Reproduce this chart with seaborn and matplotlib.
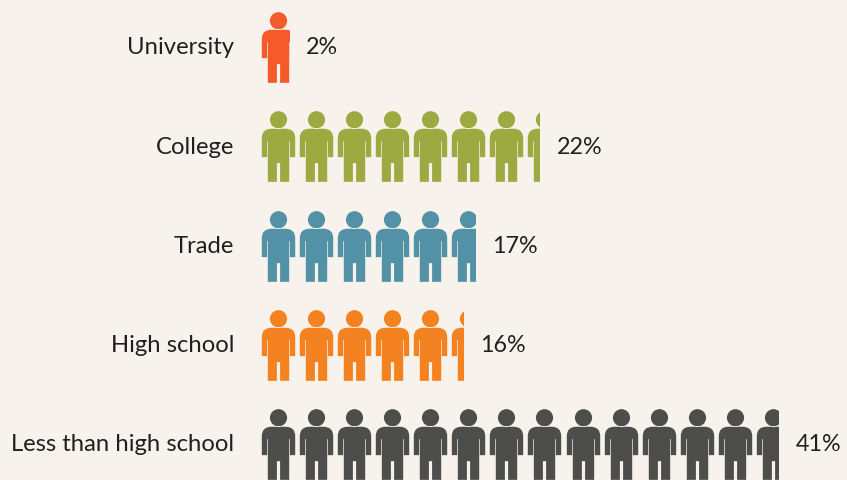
import numpy as np
import pandas as pd
import matplotlib
matplotlib.use("Agg")
import matplotlib.pyplot as plt
from matplotlib.path import Path
from matplotlib.transforms import ScaledTranslation
import seaborn as sns

categories = ["University", "College", "Trade", "High school", "Less than high school"]
shares = [2.2, 22, 16.9, 16.0, 40.9]
colors = ["#F55A2A", "#9DAA41", "#5392A6", "#F58220", "#4D4D4B"]
BG = "#F7F3EC"
TEXT = "#231F20"
PX_PER_UNIT = 12.65   # horizontal pixels per percentage point
ROW_PX = 99.25
UNITS_PER_PERSON = 3.01

sns.set_theme(style="white")
plt.rcParams["font.family"] = ["Lato", "DejaVu Sans"]

# person glyph, drawn in pixels, y measured from the top of the figure
def person():
    mid = 35.35
    pts = [(-16.7, 27), (-16.7, 17.6), (-7, 17.6), (7, 17.6), (16.7, 17.6), (16.7, 27),
           (16.7, 46), (11.4, 46), (11.4, 30), (10.7, 30), (10.7, 70.7), (1.6, 70.7),
           (1.6, 52), (-1.6, 52), (-1.6, 70.7), (-10.7, 70.7), (-10.7, 30), (-11.4, 30),
           (-11.4, 46), (-16.7, 46), (-16.7, 27)]
    codes = [Path.MOVETO, Path.CURVE3, Path.CURVE3, Path.LINETO, Path.CURVE3, Path.CURVE3] + \
            [Path.LINETO] * 14 + [Path.CLOSEPOLY]
    body = Path([(x, mid - y) for x, y in pts], codes)
    head = Path.circle((0, mid - 8.6), 8.6)
    return Path.make_compound_path(body, head)

marker = person()
df = pd.DataFrame({"level": categories, "share": shares})

fig = plt.figure(figsize=(8.47, 4.81), dpi=100, facecolor=BG)
ax = fig.add_axes([261 / 847, 0, 586 / 847, 1], facecolor=BG)

sns.barplot(data=df, y="level", x="share", orient="h", fill=False, linewidth=0, ax=ax)
bars = ax.containers[0]

for i, (bar, value, color) in enumerate(zip(bars, shares, colors)):
    n = int(np.ceil(value / UNITS_PER_PERSON))
    xs = (np.arange(n) + 0.445) * UNITS_PER_PERSON
    sns.scatterplot(x=xs, y=np.full(n, i), marker=marker, s=2591, color=color,
                    linewidth=0, ax=ax, legend=False, zorder=3, clip_on=True)
    ax.collections[-1].set_clip_path(bar)

lift = ScaledTranslation(0, 1.5 / 72, fig.dpi_scale_trans)
for label in ax.bar_label(bars, fmt="%.0f%%", padding=12.4, fontsize=16.8, color=TEXT):
    label.set_transform(label.get_transform() + lift)

ax.set_xlim(0, 586 / PX_PER_UNIT)
ax.set_ylim((481 - 48) / ROW_PX, -48 / ROW_PX)
ax.set_xlabel("")
ax.set_ylabel("")
ax.set_xticks([])
ax.tick_params(axis="y", length=0, pad=19.4, labelsize=17.2, labelcolor=TEXT)
for label in ax.get_yticklabels():
    label.set_transform(label.get_transform() + lift)
sns.despine(ax=ax, left=True, bottom=True)

fig.savefig("out.png", dpi=100, facecolor=BG)
